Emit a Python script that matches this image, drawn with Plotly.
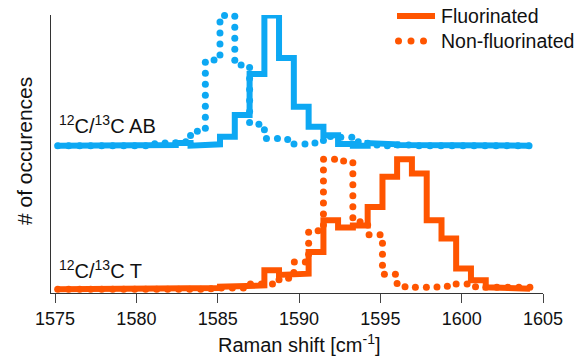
import numpy as np
import plotly.graph_objects as go

# Raman shift bin edges (cm^-1) shared by all four histograms
bin_edges = [1575.16, 1576.07, 1576.98, 1577.88, 1578.79, 1579.70, 1580.61, 1581.51,
             1582.42, 1583.33, 1584.24, 1585.14, 1586.05, 1586.96, 1587.87, 1588.77,
             1589.68, 1590.59, 1591.50, 1592.40, 1593.31, 1594.22, 1595.13, 1596.03,
             1596.94, 1597.85, 1598.76, 1599.66, 1600.57, 1601.48, 1602.39, 1603.29,
             1604.20]

# Normalised occurrences per bin
ab_fluorinated = [0, 0, 0, 0, 0, 0.01, 0.01, 0.005, 0.02, 0.0, 0.01, 0.068, 0.235, 0.55,
                  1.0, 0.673, 0.298, 0.145, 0.08, 0.012, 0.0, 0.02, 0.01, 0.005, 0.01,
                  0.005, 0, 0, 0, 0, 0, 0]
ab_nonfluorinated = [0, 0, 0, 0, 0, 0, 0.015, 0.02, 0.03, 0.11, 0.658, 1.0, 0.62, 0.165,
                     0.054, 0.048, 0.012, 0.02, 0.07, 0.065, 0.03, 0.005, 0.0, 0.005, 0.0,
                     0, 0, 0, 0, 0, 0, 0]
t_fluorinated = [0, 0, 0, 0, 0, 0, 0, 0, 0, 0, 0.01, 0.02, 0.03, 0.03, 0.146, 0.11, 0.12,
                 0.287, 0.53, 0.475, 0.49, 0.633, 0.864, 1.0, 0.89, 0.53, 0.39, 0.16,
                 0.07, 0.015, 0.005, 0.005]
t_nonfluorinated = [0, 0, 0, 0, 0, 0, 0, 0, 0, 0, 0.005, 0.01, 0.01, 0.04, 0.04, 0.085,
                    0.21, 0.45, 1.0, 0.985, 0.52, 0.42, 0.115, 0.02, 0.015, 0.018, 0.023,
                    0.04, 0.02, 0.015, 0.015, 0.015]

ab_offset = 1.104          # vertical offset of the AB pair above the T pair
x_ticks = [1575, 1580, 1585, 1590, 1595, 1600, 1605]
blue = "#0DA8F3"
orange = "#FF5500"
font_family = "Liberation Sans, Arial, sans-serif"

W, H = 579, 360
margin = dict(l=51, r=36, t=15, b=67)
x_range = [1574.75, 1605.0]
y_range = [-0.0285, 2.108]
plot_w = W - margin["l"] - margin["r"]
plot_h = H - margin["t"] - margin["b"]
sx = plot_w / (x_range[1] - x_range[0])
sy = plot_h / (y_range[1] - y_range[0])


def step_path(edges, counts, offset):
    xs, ys = [], []
    for k, c in enumerate(counts):
        xs += [edges[k], edges[k + 1]]
        ys += [c + offset, c + offset]
    return np.array(xs), np.array(ys)


def dots_along(xs, ys, spacing_px=11.0):
    # place round dots at equal on-screen distances along the step outline
    px, py = xs * sx, ys * sy
    seg = np.hypot(np.diff(px), np.diff(py))
    cum = np.concatenate([[0], np.cumsum(seg)])
    d = np.arange(0, cum[-1] + 0.01, spacing_px)
    idx = np.clip(np.searchsorted(cum, d, side="right") - 1, 0, len(seg) - 1)
    frac = np.where(seg[idx] > 0, (d - cum[idx]) / np.where(seg[idx] > 0, seg[idx], 1), 0)
    return xs[idx] + frac * (xs[idx + 1] - xs[idx]), ys[idx] + frac * (ys[idx + 1] - ys[idx])


fig = go.Figure()
series = [
    (t_nonfluorinated, 0.0, orange, False),
    (t_fluorinated, 0.0, orange, True),
    (ab_nonfluorinated, ab_offset, blue, False),
    (ab_fluorinated, ab_offset, blue, True),
]
for counts, off, col, solid in series:
    xs, ys = step_path(bin_edges, counts, off)
    if solid:
        fig.add_trace(go.Scatter(x=xs, y=ys, mode="lines",
                                 line=dict(color=col, width=6), showlegend=False,
                                 hoverinfo="skip"))
    else:
        dx, dy = dots_along(xs, ys)
        fig.add_trace(go.Scatter(x=dx, y=dy, mode="markers",
                                 marker=dict(color=col, size=7, line=dict(width=0)),
                                 showlegend=False, hoverinfo="skip", cliponaxis=False))

# curve labels
label_font = dict(family=font_family, size=20, color="#111")
fig.add_annotation(x=1575.1, y=ab_offset + 0.05, xref="x", yref="y",
                   text="<sup>12</sup>C/<sup>13</sup>C AB", showarrow=False,
                   xanchor="left", yanchor="bottom", font=label_font)
fig.add_annotation(x=1575.1, y=0.04, xref="x", yref="y",
                   text="<sup>12</sup>C/<sup>13</sup>C T", showarrow=False,
                   xanchor="left", yanchor="bottom", font=label_font)


def px_to_paper(px, py):
    return (px - margin["l"]) / plot_w, (H - margin["b"] - py) / plot_h


# legend
legend_font = dict(family=font_family, size=19.5, color="#111")
lx0, ly0 = px_to_paper(397, 16)
lx1, _ = px_to_paper(435, 16)
fig.add_shape(type="line", xref="paper", yref="paper", x0=lx0, x1=lx1, y0=ly0, y1=ly0,
              line=dict(color=orange, width=6))
for cx in [398.5, 411, 423.5]:
    ax_, ay_ = px_to_paper(cx, 41)
    fig.add_shape(type="circle", xref="paper", yref="paper", xsizemode="pixel",
                  ysizemode="pixel", xanchor=ax_, yanchor=ay_, x0=-3.5, x1=3.5,
                  y0=-3.5, y1=3.5, fillcolor=orange, line=dict(width=0))
for text, py in [("Fluorinated", 16), ("Non-fluorinated", 41)]:
    tx, ty = px_to_paper(439, py)
    fig.add_annotation(x=tx, y=ty, xref="paper", yref="paper", text=text,
                       showarrow=False, xanchor="left", yanchor="middle",
                       font=legend_font)

# axis titles
tx, ty = px_to_paper(299, 343)
fig.add_annotation(x=tx, y=ty, xref="paper", yref="paper",
                   text="Raman shift [cm<sup>-1</sup>]", showarrow=False,
                   xanchor="center", yanchor="middle", font=label_font)
tx, ty = px_to_paper(24, 151)
fig.add_annotation(x=tx, y=ty, xref="paper", yref="paper", text="# of occurences",
                   textangle=-90, showarrow=False, xanchor="center", yanchor="middle",
                   font=dict(family=font_family, size=21, color="#111"))

fig.update_layout(
    width=W, height=H, margin=margin, paper_bgcolor="white", plot_bgcolor="white",
    font=dict(family=font_family, color="#111"),
    xaxis=dict(range=x_range, tickvals=x_ticks, ticks="outside", ticklen=9,
               tickwidth=1.3, tickcolor="#444", showline=True, linecolor="#333",
               linewidth=1.3, showgrid=False, zeroline=False,
               tickfont=dict(size=18, family=font_family, color="#111")),
    yaxis=dict(range=y_range, showline=True, linecolor="#333", linewidth=1.3,
               showticklabels=False, ticks="", showgrid=False, zeroline=False),
)

fig.write_html("out.html")
